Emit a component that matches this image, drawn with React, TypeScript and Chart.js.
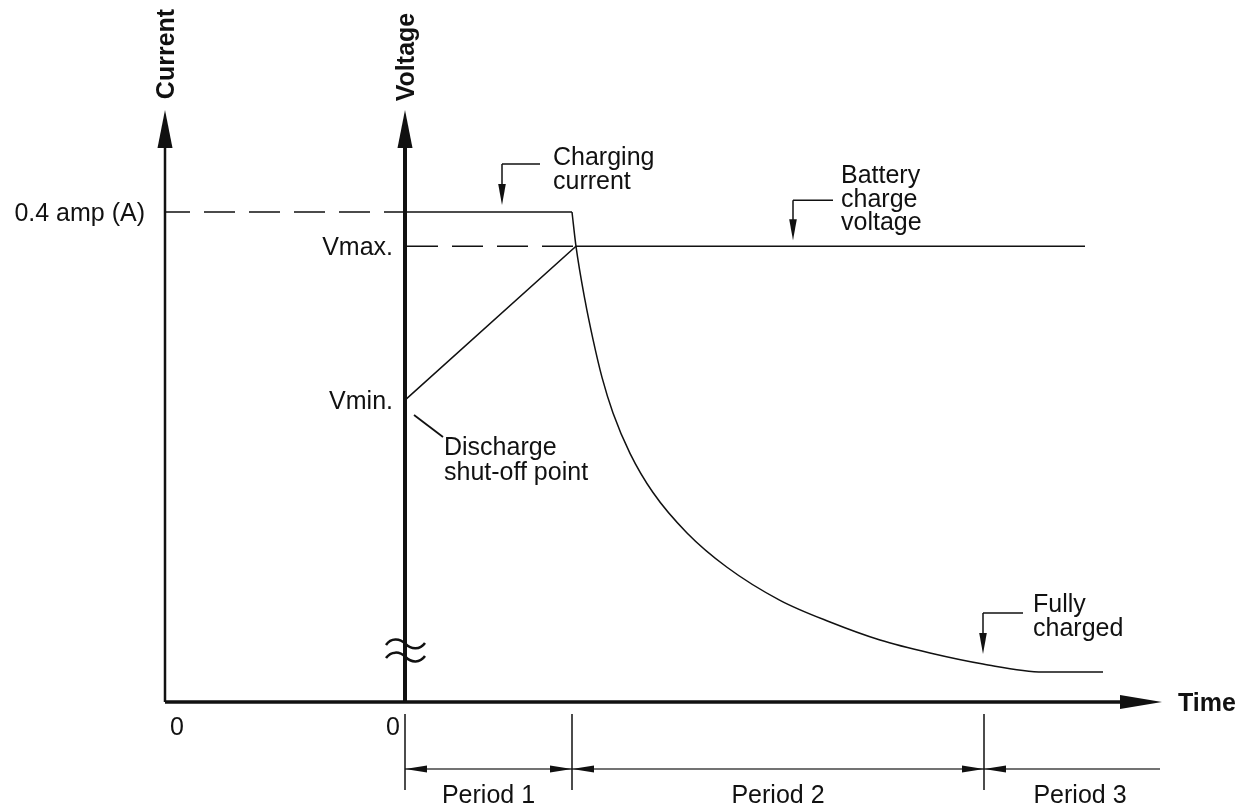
import React, { useEffect, useRef } from 'react';
import { Chart, registerables } from 'chart.js';
Chart.register(...registerables);

// ---- data (schematic units) ----
const timeMin = -2.4; // position of the current axis on the time scale
const timeMax = 7.57;
const currentTop = 0.4833; // amps at the top of the axes
const voltageTop = 100; // relative voltage level at the top of the axes

const chargingCurrent = 0.4;
const timeChargeFlat = [0, 1.67];
const timeDecay = [1.67, 1.71, 1.8, 1.88, 1.97, 2.08, 2.25, 2.48, 2.82, 3.22, 3.75, 4.25, 4.75, 5.25, 5.78, 6.38, 6.98];
const currentDecay = [0.4, 0.372, 0.328, 0.296, 0.265, 0.236, 0.203, 0.171, 0.138, 0.11, 0.083, 0.0653, 0.0506, 0.04, 0.031, 0.0245, 0.0245];

const vMin = 51.0;
const vMax = 77.0;
const timeVoltage = [0, 1.71, 6.8];
const voltageLevels = [vMin, vMax, vMax];

const periodBounds = [0, 1.67, 5.79];
const periodEnd = 7.55;
const periodLabels = ['Period 1', 'Period 2', 'Period 3'];
const breakLevels = [9.8, 7.6]; // voltage axis break marks

const chargingArrowTime = 0.97;
const batteryArrowTime = 3.88;
const fullyArrowTime = 5.78;

const FONT = '"Liberation Sans", Arial, Helvetica, sans-serif';
const INK = '#111';

function pts(xs: number[], ys: number[]) {
  return xs.map((x, i) => ({ x, y: ys[i] }));
}

function arrowHead(ctx: CanvasRenderingContext2D, tx: number, ty: number, dir: string, len: number, hw: number) {
  ctx.beginPath();
  if (dir === 'up') {
    ctx.moveTo(tx, ty); ctx.lineTo(tx - hw, ty + len); ctx.lineTo(tx + hw, ty + len);
  } else if (dir === 'down') {
    ctx.moveTo(tx, ty); ctx.lineTo(tx - hw, ty - len); ctx.lineTo(tx + hw, ty - len);
  } else if (dir === 'right') {
    ctx.moveTo(tx, ty); ctx.lineTo(tx - len, ty - hw); ctx.lineTo(tx - len, ty + hw);
  } else {
    ctx.moveTo(tx, ty); ctx.lineTo(tx + len, ty - hw); ctx.lineTo(tx + len, ty + hw);
  }
  ctx.closePath();
  ctx.fill();
}

function line(ctx: CanvasRenderingContext2D, x1: number, y1: number, x2: number, y2: number, w: number, color = INK) {
  ctx.beginPath();
  ctx.strokeStyle = color;
  ctx.lineWidth = w;
  ctx.moveTo(x1, y1);
  ctx.lineTo(x2, y2);
  ctx.stroke();
}

function textLines(ctx: CanvasRenderingContext2D, lines: string[], x: number, y0: number, lh: number) {
  lines.forEach((s, i) => ctx.fillText(s, x, y0 + i * lh));
}

function callout(ctx: CanvasRenderingContext2D, tx: number, ty: number, gap: number, rise: number, run: number,
  textDx: number, firstBaseDy: number, lines: string[]) {
  const tipY = ty - gap;
  const cornerY = ty - rise;
  line(ctx, tx, tipY - 18, tx, cornerY, 1.5);
  line(ctx, tx, cornerY, tx + run, cornerY, 1.5);
  arrowHead(ctx, tx, tipY, 'down', 21, 3.8);
  ctx.textAlign = 'left';
  textLines(ctx, lines, tx + textDx, ty + firstBaseDy, 23.5);
}

const diagramPlugin = {
  id: 'diagram',
  beforeDraw(chart: any) {
    const ctx = chart.ctx;
    ctx.save();
    ctx.fillStyle = '#fff';
    ctx.fillRect(0, 0, chart.width, chart.height);
    ctx.restore();
  },
  afterDraw(chart: any) {
    const ctx: CanvasRenderingContext2D = chart.ctx;
    const sx = chart.scales.x;
    const sI = chart.scales.yI;
    const sV = chart.scales.yV;
    const area = chart.chartArea;
    const xCur = sx.getPixelForValue(timeMin);
    const xVol = sx.getPixelForValue(0);
    const yBase = sI.getPixelForValue(0);
    const yTop = area.top;
    const xEnd = area.right;

    ctx.save();
    ctx.fillStyle = INK;
    ctx.strokeStyle = INK;
    ctx.lineCap = 'butt';

    // axes
    line(ctx, xCur, yBase, xCur, yTop + 20, 2.5);
    arrowHead(ctx, xCur, yTop, 'up', 38, 7.5);
    line(ctx, xVol, yBase, xVol, yTop + 20, 4);
    arrowHead(ctx, xVol, yTop, 'up', 38, 7.5);
    line(ctx, xCur, yBase, xEnd - 20, yBase, 3.5);
    arrowHead(ctx, xEnd, yBase, 'right', 42, 7);

    // axis break marks
    ctx.lineWidth = 2.5;
    breakLevels.forEach((lv) => {
      const y = sV.getPixelForValue(lv);
      const x0 = xVol - 19;
      const x1 = xVol + 20;
      const xm = (x0 + x1) / 2;
      ctx.beginPath();
      ctx.moveTo(x0, y + 1);
      ctx.bezierCurveTo(x0 + 5, y - 6, xm - 6, y - 6, xm, y);
      ctx.bezierCurveTo(xm + 6, y + 6, x1 - 5, y + 6, x1, y - 1);
      ctx.stroke();
    });

    // axis titles
    ctx.font = `bold 25px ${FONT}`;
    ctx.textAlign = 'center';
    ctx.textBaseline = 'alphabetic';
    [[xCur, 'Current', 54], [xVol, 'Voltage', 57]].forEach(([x, s, cy]: any) => {
      ctx.save();
      ctx.translate(x + 9, cy);
      ctx.rotate(-Math.PI / 2);
      ctx.fillText(s, 0, 0);
      ctx.restore();
    });
    ctx.textAlign = 'left';
    ctx.fillText('Time', xEnd + 16, yBase + 9);

    // value labels
    ctx.font = `25px ${FONT}`;
    ctx.textAlign = 'right';
    ctx.fillText(`${chargingCurrent} amp (A)`, xCur - 20, sI.getPixelForValue(chargingCurrent) + 9);
    ctx.fillText('Vmax.', xVol - 12, sV.getPixelForValue(vMax) + 9);
    ctx.fillText('Vmin.', xVol - 12, sV.getPixelForValue(vMin) + 9);
    ctx.fillText('0', xVol - 5, yBase + 33);
    ctx.textAlign = 'center';
    ctx.fillText('0', xCur + 12, yBase + 33);

    // callouts
    callout(ctx, sx.getPixelForValue(chargingArrowTime), sI.getPixelForValue(chargingCurrent), 7, 48, 38, 51, -47,
      ['Charging', 'current']);
    callout(ctx, sx.getPixelForValue(batteryArrowTime), sV.getPixelForValue(vMax), 6, 46, 40, 48, -63,
      ['Battery', 'charge', 'voltage']);
    const fIdx = timeDecay.indexOf(fullyArrowTime);
    callout(ctx, sx.getPixelForValue(fullyArrowTime), sI.getPixelForValue(currentDecay[fIdx]), 10, 51, 40, 50, -52,
      ['Fully', 'charged']);

    // discharge shut-off point leader
    const vx = xVol;
    const vy = sV.getPixelForValue(vMin);
    line(ctx, vx + 9, vy + 15, vx + 38, vy + 37, 1.8);
    ctx.textAlign = 'left';
    textLines(ctx, ['Discharge', 'shut-off point'], vx + 39, vy + 55, 25);

    // periods
    const yDim = yBase + 67;
    const pxs = periodBounds.map((t) => sx.getPixelForValue(t));
    const pEnd = sx.getPixelForValue(periodEnd);
    line(ctx, pxs[0], yDim, pEnd, yDim, 1.5, '#444');
    pxs.forEach((px, i) => {
      line(ctx, px, yBase + 12, px, yBase + 88, 1.5);
      arrowHead(ctx, px, yDim, 'left', 22, 3.5);
      if (i > 0) arrowHead(ctx, px, yDim, 'right', 22, 3.5);
    });
    ctx.textAlign = 'center';
    const ends = [...pxs.slice(1), pEnd];
    periodLabels.forEach((s, i) => {
      const extra = i === periodLabels.length - 1 ? 8 : 0;
      ctx.fillText(s, (pxs[i] + ends[i]) / 2 + extra, yBase + 101);
    });

    ctx.restore();
  },
};

export default function App() {
  const ref = useRef<HTMLCanvasElement>(null);
  useEffect(() => {
    const canvas = ref.current as HTMLCanvasElement;
    const common = { pointRadius: 0, borderColor: INK, borderWidth: 1.5, fill: false, clip: false as any };
    const chart = new Chart(canvas, {
      type: 'line',
      data: {
        datasets: [
          {
            ...common,
            label: 'Current reference',
            yAxisID: 'yI',
            data: pts([timeMin, 0], [chargingCurrent, chargingCurrent]),
            borderDash: [31, 14],
            borderDashOffset: 6,
          },
          {
            ...common,
            label: 'Charging current',
            yAxisID: 'yI',
            data: pts(timeChargeFlat, [chargingCurrent, chargingCurrent]),
          },
          {
            ...common,
            label: 'Charging current decay',
            yAxisID: 'yI',
            data: pts(timeDecay, currentDecay),
            cubicInterpolationMode: 'monotone',
            tension: 0.4,
          },
          {
            ...common,
            label: 'Vmax reference',
            yAxisID: 'yV',
            data: pts([0, timeVoltage[1]], [vMax, vMax]),
            borderDash: [31, 14],
            borderDashOffset: -2,
          },
          {
            ...common,
            label: 'Battery charge voltage',
            yAxisID: 'yV',
            data: pts(timeVoltage, voltageLevels),
          },
        ],
      },
      options: {
        responsive: false,
        animation: false,
        devicePixelRatio: 1,
        events: [],
        layout: { padding: { left: 165, top: 110, right: 81, bottom: 107 } },
        plugins: { legend: { display: false }, tooltip: { enabled: false }, title: { display: false } },
        scales: {
          x: { type: 'linear', min: timeMin, max: timeMax, display: false },
          yI: { type: 'linear', position: 'left', min: 0, max: currentTop, display: false },
          yV: { type: 'linear', position: 'right', min: 0, max: voltageTop, display: false },
        },
      },
      plugins: [diagramPlugin],
    } as any);
    return () => chart.destroy();
  }, []);
  return (
    <div style={{ position: 'absolute', left: 0, top: 0, width: 1243, height: 809, background: '#fff' }}>
      <canvas ref={ref} width={1243} height={809} style={{ display: 'block' }} />
    </div>
  );
}
